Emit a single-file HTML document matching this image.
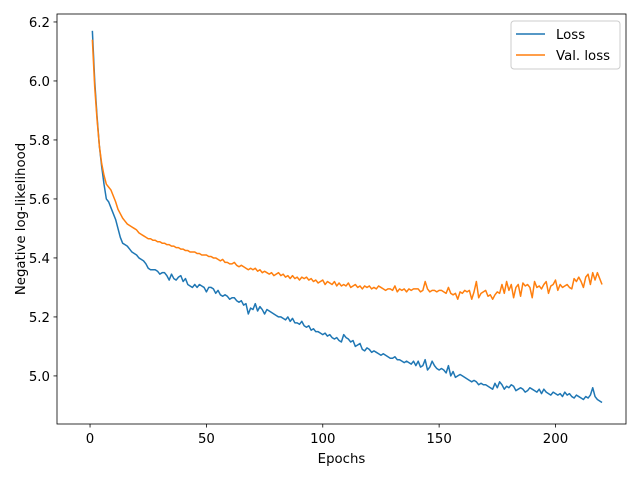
<!DOCTYPE html>
<html><head><meta charset="utf-8"><style>
body{margin:0;background:#fff;}
svg{font-family:"DejaVu Sans","Liberation Sans",sans-serif;}
</style></head><body>
<svg id="chart" width="640" height="480" xmlns="http://www.w3.org/2000/svg">
<rect width="640" height="480" fill="#fff"/>
<g id="plot"></g>
</svg>
<script>
const xTicks=[0,50,100,150,200];
const yTicks=[5.0,5.2,5.4,5.6,5.8,6.0,6.2];
const lossValues=[6.17,6.00,5.88,5.78,5.71,5.65,5.60,5.59,5.57,5.55,
5.53,5.50,5.47,5.45,5.445,5.44,5.43,5.42,5.415,5.41,
5.40,5.395,5.39,5.38,5.365,5.36,5.36,5.36,5.355,5.345,
5.35,5.35,5.34,5.325,5.345,5.33,5.325,5.335,5.34,5.32,
5.33,5.31,5.305,5.30,5.31,5.30,5.31,5.305,5.30,5.285,
5.30,5.30,5.295,5.28,5.29,5.275,5.27,5.275,5.27,5.26,
5.265,5.265,5.255,5.25,5.255,5.24,5.245,5.21,5.23,5.225,
5.245,5.22,5.235,5.225,5.21,5.225,5.22,5.215,5.21,5.205,
5.2,5.2,5.195,5.19,5.2,5.185,5.195,5.18,5.18,5.175,
5.185,5.17,5.165,5.17,5.155,5.16,5.15,5.15,5.145,5.14,
5.145,5.135,5.14,5.13,5.125,5.13,5.12,5.115,5.14,5.13,
5.125,5.115,5.12,5.10,5.105,5.11,5.09,5.085,5.095,5.09,
5.08,5.085,5.08,5.075,5.07,5.075,5.07,5.065,5.06,5.06,
5.065,5.055,5.055,5.05,5.045,5.05,5.045,5.04,5.05,5.035,
5.05,5.03,5.035,5.055,5.02,5.03,5.05,5.035,5.025,5.02,
5.025,5.02,5.01,5.035,5.0,5.015,4.995,5.0,5.005,5.0,
4.995,4.99,4.985,4.98,4.985,4.98,4.97,4.975,4.97,4.97,
4.965,4.96,4.955,4.975,4.96,4.98,4.97,4.955,4.965,4.96,
4.97,4.965,4.95,4.955,4.96,4.955,4.945,4.95,4.96,4.955,
4.95,4.945,4.955,4.94,4.955,4.945,4.94,4.935,4.945,4.94,
4.935,4.94,4.93,4.945,4.935,4.94,4.93,4.925,4.935,4.93,
4.925,4.92,4.93,4.925,4.935,4.96,4.93,4.92,4.915,4.91];
const valLossValues=[6.14,5.98,5.87,5.78,5.72,5.68,5.65,5.64,5.63,5.61,
5.59,5.565,5.55,5.535,5.525,5.515,5.51,5.505,5.50,5.495,
5.485,5.48,5.475,5.47,5.465,5.465,5.46,5.46,5.455,5.455,
5.45,5.45,5.445,5.445,5.44,5.44,5.435,5.435,5.43,5.43,
5.425,5.425,5.42,5.42,5.42,5.415,5.415,5.41,5.41,5.41,
5.405,5.405,5.40,5.40,5.395,5.39,5.395,5.385,5.385,5.38,
5.38,5.385,5.375,5.37,5.375,5.37,5.365,5.36,5.365,5.36,
5.365,5.355,5.36,5.35,5.355,5.35,5.345,5.35,5.34,5.345,
5.35,5.34,5.345,5.335,5.34,5.33,5.34,5.33,5.335,5.325,
5.335,5.33,5.335,5.325,5.33,5.32,5.325,5.315,5.32,5.325,
5.31,5.32,5.315,5.31,5.32,5.305,5.315,5.305,5.31,5.305,
5.315,5.30,5.305,5.31,5.30,5.305,5.295,5.305,5.30,5.305,
5.295,5.30,5.295,5.305,5.30,5.295,5.29,5.295,5.295,5.29,
5.305,5.285,5.295,5.29,5.295,5.285,5.295,5.29,5.295,5.295,
5.295,5.285,5.29,5.32,5.295,5.285,5.29,5.29,5.285,5.29,
5.29,5.285,5.28,5.30,5.28,5.275,5.28,5.26,5.285,5.28,
5.29,5.285,5.29,5.26,5.285,5.32,5.265,5.28,5.285,5.29,
5.27,5.275,5.26,5.275,5.285,5.28,5.31,5.28,5.32,5.29,
5.31,5.265,5.30,5.31,5.27,5.315,5.305,5.31,5.30,5.265,
5.32,5.30,5.305,5.295,5.31,5.32,5.28,5.305,5.31,5.325,
5.29,5.31,5.30,5.305,5.31,5.30,5.295,5.33,5.32,5.335,
5.32,5.30,5.335,5.345,5.31,5.35,5.325,5.35,5.33,5.31];

const L=57,R=626,T=14,B=424;
const xMin=-14.2,xMax=230.3,yMin=4.837,yMax=6.227;
const sx=v=>L+(v-xMin)/(xMax-xMin)*(R-L);
const sy=v=>B-(v-yMin)/(yMax-yMin)*(B-T);
const NS="http://www.w3.org/2000/svg";
const g=document.getElementById('plot');
function mk(tag,attrs,parent){const e=document.createElementNS(NS,tag);for(const k in attrs)e.setAttribute(k,attrs[k]);(parent||g).appendChild(e);return e;}
const FS=13.3;

function line(vals,color,name){
  const d=vals.map((v,i)=>(i?'L':'M')+sx(i+1).toFixed(2)+','+sy(v).toFixed(2)).join('');
  const p=mk('path',{d:d,fill:'none',stroke:color,'stroke-width':1.5,'stroke-linejoin':'round'});
  
  
}
line(lossValues,'#1f77b4','loss-line');
line(valLossValues,'#ff7f0e','val-loss-line');

const frame=mk('rect',{x:L,y:T,width:R-L,height:B-T,fill:'none',stroke:'#000','stroke-width':0.8});



xTicks.forEach(t=>{
  const x=sx(t);
  const tk=mk('line',{x1:x,x2:x,y1:B,y2:B+3.5,stroke:'#000','stroke-width':0.8});
  
  
  const tx=mk('text',{x:x,y:B+19,'font-size':FS,'text-anchor':'middle',fill:'#000'});
  tx.textContent=t;
  
  
});
yTicks.forEach(t=>{
  const y=sy(t);
  const tk=mk('line',{x1:L-3.5,x2:L,y1:y,y2:y,stroke:'#000','stroke-width':0.8});
  
  
  const tx=mk('text',{x:L-7,y:y+5,'font-size':FS,'text-anchor':'end',fill:'#000'});
  tx.textContent=t.toFixed(1);
  
  
});
const xl=mk('text',{x:(L+R)/2,y:463,'font-size':FS,'text-anchor':'middle'});
xl.textContent='Epochs';


const yl=mk('text',{x:0,y:0,'font-size':FS,'text-anchor':'middle',transform:'translate(25,'+((T+B)/2)+') rotate(-90)'});
yl.textContent='Negative log-likelihood';



const lg=mk('g',{});


mk('rect',{x:511,y:21,width:109,height:48,rx:3,fill:'#fff',stroke:'#ccc','stroke-width':1},lg);
[['Loss','#1f77b4',38],['Val. loss','#ff7f0e',59]].forEach(([n,c,y])=>{
  const e=mk('g',{},lg);
  
  
  mk('line',{x1:516,x2:545,y1:y-4,y2:y-4,stroke:c,'stroke-width':1.5},e);
  const t=mk('text',{x:556,y:y+1,'font-size':FS},e);
  t.textContent=n;
});
</script>
</body></html>
